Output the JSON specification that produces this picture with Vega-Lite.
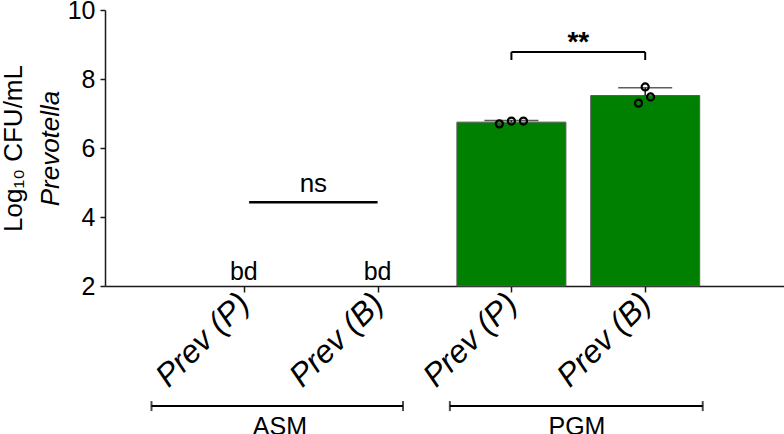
{
  "$schema": "https://vega.github.io/schema/vega-lite/v6.json",
  "width": 679,
  "height": 276,
  "autosize": "none",
  "padding": {"left": 105, "top": 10, "right": 0, "bottom": 148},
  "background": "white",
  "config": {
    "view": {"stroke": null},
    "font": "Liberation Sans",
    "axis": {
      "grid": false,
      "domainColor": "#1a1a1a",
      "domainWidth": 1.5,
      "tickColor": "#1a1a1a",
      "tickWidth": 1.5,
      "labelColor": "black",
      "titleColor": "black",
      "labelFont": "Liberation Sans",
      "titleFont": "Liberation Sans",
      "titleFontWeight": "normal"
    }
  },
  "datasets": {
    "bars": [
      {"medium": "PGM", "strain": "Prev (P)", "pos": 3, "mean": 6.75, "hi": 6.80},
      {"medium": "PGM", "strain": "Prev (B)", "pos": 4, "mean": 7.52, "hi": 7.75}
    ],
    "reps": [
      {"medium": "PGM", "strain": "Prev (P)", "x": 2.91, "log": 6.70},
      {"medium": "PGM", "strain": "Prev (P)", "x": 3.0, "log": 6.78},
      {"medium": "PGM", "strain": "Prev (P)", "x": 3.09, "log": 6.78},
      {"medium": "PGM", "strain": "Prev (B)", "x": 4.0, "log": 7.77},
      {"medium": "PGM", "strain": "Prev (B)", "x": 4.04, "log": 7.48},
      {"medium": "PGM", "strain": "Prev (B)", "x": 3.95, "log": 7.30}
    ],
    "bd": [
      {"medium": "ASM", "strain": "Prev (P)", "pos": 1, "y": 2, "text": "bd"},
      {"medium": "ASM", "strain": "Prev (B)", "pos": 2, "y": 2, "text": "bd"}
    ],
    "ns": [
      {"from": 1.04, "to": 2.0, "level": 4.43, "mid": 1.52, "text": "ns"}
    ],
    "sig": [
      {"from": 3, "to": 4, "level": 8.78, "tip": 8.55, "mid": 3.5, "text": "**"}
    ],
    "groups": [
      {"group": "ASM", "from": 0.31, "to": 2.19, "mid": 1.27, "level": -1.48},
      {"group": "PGM", "from": 2.54, "to": 4.43, "mid": 3.49, "level": -1.48}
    ]
  },
  "layer": [
    {
      "layer": [
        {
          "data": {"name": "bars"},
          "mark": {"type": "bar", "width": 109, "color": "#008000", "stroke": "#5a5a5a", "strokeWidth": 1},
          "encoding": {
            "x": {
              "field": "pos", "type": "quantitative",
              "scale": {"domain": [0, 5], "nice": false, "zero": false},
              "axis": {
                "title": null,
                "values": [1, 2, 3, 4],
                "labelExpr": "datum.value % 2 == 1 ? 'Prev (P)' : 'Prev (B)'",
                "labelAngle": -45,
                "labelAlign": "right",
                "labelBaseline": "middle",
                "labelFontSize": 32,
                "labelFontStyle": "italic",
                "labelPadding": 6,
                "tickSize": 6,
                "labelOverlap": false,
                "labelFlush": false
              }
            },
            "y": {
              "field": "mean", "type": "quantitative",
              "scale": {"domain": [2, 10], "nice": false, "zero": false},
              "axis": {
                "title": "Log₁₀ CFU/mL",
                "titleFontSize": 26,
                "titlePadding": 41,
                "values": [2, 4, 6, 8, 10],
                "labelFontSize": 25,
                "tickSize": 5,
                "labelPadding": 5
              }
            },
            "y2": {"datum": 2}
          }
        },
        {
          "data": {"name": "bars"},
          "mark": {"type": "rule", "color": "#1a1a1a", "strokeWidth": 1.5},
          "encoding": {
            "x": {"field": "pos", "type": "quantitative"},
            "y": {"field": "mean", "type": "quantitative"},
            "y2": {"field": "hi"}
          }
        },
        {
          "data": {"name": "bars"},
          "mark": {"type": "tick", "orient": "horizontal", "color": "#1a1a1a", "size": 54, "thickness": 1.5},
          "encoding": {
            "x": {"field": "pos", "type": "quantitative"},
            "y": {"field": "hi", "type": "quantitative"}
          }
        },
        {
          "data": {"name": "reps"},
          "mark": {"type": "point", "shape": "circle", "filled": false, "stroke": "black", "strokeWidth": 2.2, "size": 50, "opacity": 1},
          "encoding": {
            "x": {"field": "x", "type": "quantitative"},
            "y": {"field": "log", "type": "quantitative"}
          }
        },
        {
          "data": {"name": "bd"},
          "mark": {"type": "text", "fontSize": 25, "baseline": "alphabetic", "dy": -6, "color": "black"},
          "encoding": {
            "x": {"field": "pos", "type": "quantitative"},
            "y": {"field": "y", "type": "quantitative"},
            "text": {"field": "text"}
          }
        },
        {
          "data": {"name": "ns"},
          "mark": {"type": "rule", "color": "black", "strokeWidth": 2.5},
          "encoding": {
            "x": {"field": "from", "type": "quantitative"},
            "x2": {"field": "to"},
            "y": {"field": "level", "type": "quantitative"}
          }
        },
        {
          "data": {"name": "ns"},
          "mark": {"type": "text", "fontSize": 26, "baseline": "alphabetic", "dy": -10, "color": "black"},
          "encoding": {
            "x": {"field": "mid", "type": "quantitative"},
            "y": {"field": "level", "type": "quantitative"},
            "text": {"field": "text"}
          }
        },
        {
          "data": {"name": "sig"},
          "mark": {"type": "rule", "color": "black", "strokeWidth": 2},
          "encoding": {
            "x": {"field": "from", "type": "quantitative"},
            "x2": {"field": "to"},
            "y": {"field": "level", "type": "quantitative"}
          }
        },
        {
          "data": {"name": "sig"},
          "transform": [{"fold": ["from", "to"], "as": ["end", "at"]}],
          "mark": {"type": "rule", "color": "black", "strokeWidth": 2},
          "encoding": {
            "x": {"field": "at", "type": "quantitative"},
            "y": {"field": "level", "type": "quantitative"},
            "y2": {"field": "tip"}
          }
        },
        {
          "data": {"name": "sig"},
          "mark": {"type": "text", "fontSize": 28, "fontWeight": "bold", "baseline": "alphabetic", "dy": -1, "color": "black"},
          "encoding": {
            "x": {"field": "mid", "type": "quantitative"},
            "y": {"field": "level", "type": "quantitative"},
            "text": {"field": "text"}
          }
        },
        {
          "data": {"name": "groups"},
          "mark": {"type": "rule", "color": "black", "strokeWidth": 2},
          "encoding": {
            "x": {"field": "from", "type": "quantitative"},
            "x2": {"field": "to"},
            "y": {"field": "level", "type": "quantitative"}
          }
        },
        {
          "data": {"name": "groups"},
          "transform": [{"fold": ["from", "to"], "as": ["end", "at"]}],
          "mark": {"type": "tick", "orient": "vertical", "color": "black", "size": 10, "thickness": 2},
          "encoding": {
            "x": {"field": "at", "type": "quantitative"},
            "y": {"field": "level", "type": "quantitative"}
          }
        },
        {
          "data": {"name": "groups"},
          "mark": {"type": "text", "fontSize": 25, "baseline": "top", "dy": 9, "color": "black"},
          "encoding": {
            "x": {"field": "mid", "type": "quantitative"},
            "y": {"field": "level", "type": "quantitative"},
            "text": {"field": "group"}
          }
        }
      ]
    },
    {
      "data": {"name": "ns"},
      "mark": {"type": "rule", "opacity": 0},
      "encoding": {
        "y": {
          "field": "level", "type": "quantitative",
          "axis": {
            "orient": "left",
            "title": "Prevotella",
            "titleFontStyle": "italic",
            "titleFontSize": 26,
            "titlePadding": 42,
            "labels": false,
            "ticks": false,
            "domain": false
          }
        }
      }
    }
  ],
  "resolve": {"axis": {"y": "independent"}}
}
